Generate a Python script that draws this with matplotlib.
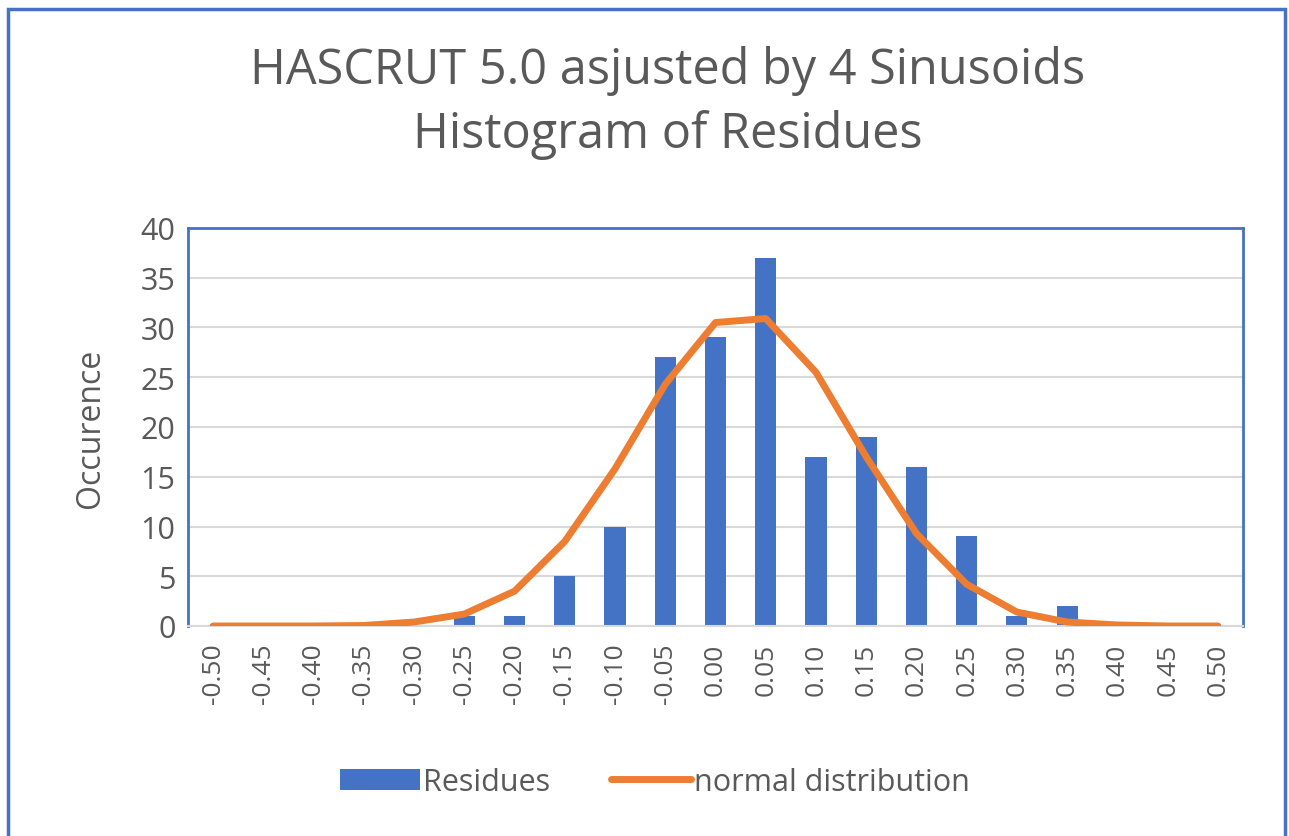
import numpy as np
import matplotlib.pyplot as plt
from matplotlib.patches import Rectangle

# bins of the residues (categories on the x axis)
bins = [-0.50, -0.45, -0.40, -0.35, -0.30, -0.25, -0.20, -0.15, -0.10, -0.05,
        0.00, 0.05, 0.10, 0.15, 0.20, 0.25, 0.30, 0.35, 0.40, 0.45, 0.50]
tick_labels = [f"{b:.2f}" for b in bins]

# counts
residues = [0, 0, 0, 0, 0, 1, 1, 5, 10, 27, 29, 37, 17, 19, 16, 9, 1, 2, 0, 0, 0]

# fitted normal curve
normal = [0, 0, 0, 0.05, 0.4, 1.2, 3.5, 8.5, 15.8, 24.3, 30.5, 30.9, 25.5,
          17.0, 9.3, 4.2, 1.4, 0.4, 0.1, 0.0, 0.0]

plt.rcParams['font.family'] = ['Open Sans', 'DejaVu Sans']
blue = '#4472C4'
orange = '#ED7D31'
grey_txt = '#595959'

fig = plt.figure(figsize=(12.89, 8.37), dpi=100)
ax = fig.add_axes([188 / 1289, 1 - 627 / 837, (1243 - 188) / 1289, (627 - 229) / 837])

# outer chart border
fig.patches.append(Rectangle((8 / 1289, -0.01), (1285 - 8) / 1289, (837 - 10) / 837 + 0.01,
                             transform=fig.transFigure, fill=False,
                             edgecolor=blue, linewidth=2.5))

x = np.arange(len(bins))
bars = ax.bar(x, residues, width=0.42, color=blue, label='Residues', zorder=2)
line, = ax.plot(x, normal, color=orange, linewidth=5, solid_capstyle='round',
                solid_joinstyle='round', label='normal distribution', zorder=3)

ax.set_xlim(-0.5, len(bins) - 0.5)
ax.set_ylim(0, 40)
ax.set_yticks(range(0, 41, 5))
ax.set_xticks(x)
ax.set_xticklabels(tick_labels, rotation=90)
ax.grid(axis='y', color='#D9D9D9', linewidth=1.5, zorder=0)
ax.set_axisbelow(True)

ax.tick_params(axis='both', length=0, labelcolor=grey_txt)
ax.tick_params(axis='x', pad=12, labelsize=19)
ax.tick_params(axis='y', pad=9, labelsize=22)

for side in ['top', 'left', 'right']:
    ax.spines[side].set_color(blue)
    ax.spines[side].set_linewidth(2)
ax.spines['bottom'].set_color('#D9D9D9')
ax.spines['bottom'].set_linewidth(1.5)

ax.set_ylabel('Occurence', fontsize=23, color=grey_txt, labelpad=24)

fig.text(668 / 1289, 1 - 103 / 837, 'HASCRUT 5.0 asjusted by 4 Sinusoids\nHistogram of Residues',
         ha='center', va='center', fontsize=35, color=grey_txt, linespacing=1.38)

fig.legend([bars, line], ['Residues', 'normal distribution'], loc='center',
           bbox_to_anchor=(655 / 1289, 1 - 783 / 837), ncol=2,
           frameon=False, fontsize=22, labelcolor=grey_txt,
           handlelength=2.6, handleheight=0.7, columnspacing=2.0, handletextpad=0.1)

fig.savefig('out.png', dpi=100)
